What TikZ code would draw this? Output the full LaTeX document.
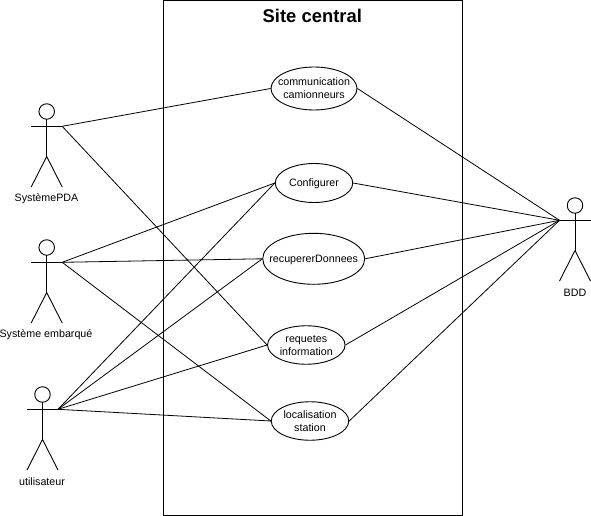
\documentclass[tikz,border=0pt]{standalone}
\usepackage{fontspec}
\setmainfont{Liberation Sans}
\usetikzlibrary{shapes.geometric}
\tikzset{
  usecase/.style={draw=black,line width=0.9pt,ellipse,inner sep=0pt,minimum width=#1,font=\fontsize{10.7}{13}\selectfont},
  lbl/.style={inner sep=0pt,font=\fontsize{10.7}{13}\selectfont},
  limb/.style={draw=black,line width=0.9pt},
  conn/.style={draw=black,line width=0.8pt},
  headc/.style={circle,draw=black,line width=0.9pt,fill=white,minimum size=15.5pt,inner sep=0pt}
}
% text of fixed zero width, so that the ellipse keeps its set size
\newcommand{\uctext}[1]{\raisebox{-4pt}[0pt][0pt]{\makebox[0pt][c]{\begin{tabular}{@{}c@{}}#1\end{tabular}}}}
\newcommand{\stick}[5]{%
  \node[headc] (#1head) at (#2,#3) {};
  \coordinate (#1neck) at (#2,#3+7.7);
  \coordinate (#1hip) at (#2,#3+45);
  \coordinate (#1la) at (#2-15.5,#3+14.8);
  \coordinate (#1ra) at (#2+15.5,#3+14.8);
  \coordinate (#1ll) at (#2-15.5,#3+75.5);
  \coordinate (#1rl) at (#2+15.5,#3+75.5);
  \draw[limb] (#1neck) -- (#1hip);
  \draw[limb] (#1la) -- (#1ra);
  \draw[limb] (#1ll) -- (#1hip) -- (#1rl);
  \node[lbl] (#1label) at (#5,#3+87.5) {#4};
}
\begin{document}
\begin{tikzpicture}[x=1pt,y=-1pt]
\useasboundingbox (0,0) rectangle (591,516);
\fill[white] (0,0) rectangle (591,516);
\node[inner sep=0pt,minimum width=298.6pt,minimum height=514.4pt,draw=black,line width=1pt] (frame) at (313.1,257.8) {};
\node[inner sep=0pt,font=\fontsize{18.4}{22}\selectfont\bfseries] (title) at (312.3,16) {Site central};

\node[usecase=86pt,minimum height=43pt] (comm) at (314,88.5) {\uctext{communication\\camionneurs}};
\node[usecase=77.5pt,minimum height=39pt] (conf) at (314,183) {\uctext{Configurer}};
\node[usecase=102pt,minimum height=51pt] (recup) at (313.7,258.8) {\uctext{recupererDonnees}};
\node[usecase=77.5pt,minimum height=38.5pt] (req) at (306.3,345) {\uctext{requetes\\information}};
\node[usecase=77.5pt,minimum height=38.5pt] (loc) at (310,421) {\uctext{localisation\\station}};

\stick{pda}{46.7}{111.5}{SystèmePDA}{46.5}
\stick{emb}{46.7}{247.5}{Système embarqué}{46}
\stick{uti}{42.5}{394.5}{utilisateur}{42}
\stick{bdd}{575}{205.5}{BDD}{575}

\draw[conn] (pdara) -- (comm.west);
\draw[conn] (pdara) -- (req.west);
\draw[conn] (embra) -- (conf.west);
\draw[conn] (embra) -- (recup.west);
\draw[conn] (embra) -- (loc.west);
\draw[conn] (utira) -- (conf.west);
\draw[conn] (utira) -- (recup.west);
\draw[conn] (utira) -- (req.west);
\draw[conn] (utira) -- (loc.west);
\draw[conn] (comm.east) -- (bddla);
\draw[conn] (conf.east) -- (bddla);
\draw[conn] (recup.east) -- (bddla);
\draw[conn] (req.east) -- (bddla);
\draw[conn] (loc.east) -- (bddla);
\end{tikzpicture}
\end{document}
